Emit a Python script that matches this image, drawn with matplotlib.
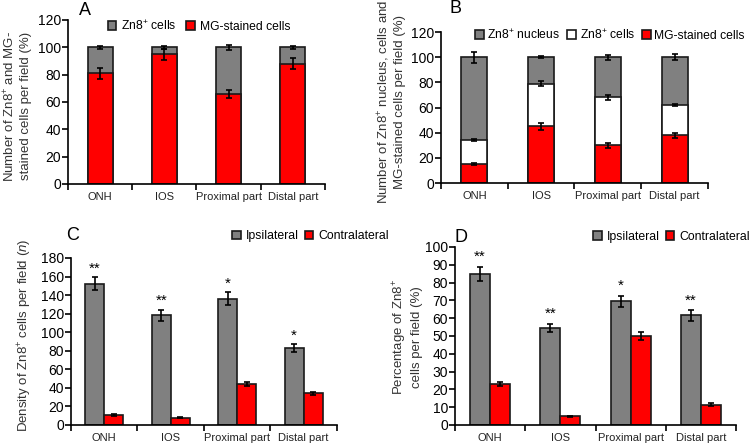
import numpy as np
import matplotlib
matplotlib.use("Agg")
import matplotlib.pyplot as plt

plt.rcParams['font.family'] = ['Liberation Sans', 'DejaVu Sans']
plt.rcParams['mathtext.fontset'] = 'custom'
plt.rcParams['mathtext.rm'] = 'Liberation Sans'
plt.rcParams['mathtext.it'] = 'Liberation Sans:italic'

regions = ['ONH', 'IOS', 'Proximal part', 'Distal part']

# panel A (stacked %)
a_mg = [81, 95, 66, 88]
a_mg_err = [4, 4, 3, 4]
a_total = [100, 100, 100, 100]
a_total_err = [1, 1, 2, 1]

# panel B (stacked %)
b_mg = [15, 45, 30, 38]
b_mg_err = [1, 2.5, 2, 2]
b_cells = [34, 79, 68, 62]
b_cells_err = [1, 2, 2, 1]
b_total = [100, 100, 100, 100]
b_total_err = [4.5, 1, 2, 2.5]

# panel C (density)
c_ipsi = [152, 118, 136, 83]
c_ipsi_err = [7, 6, 7, 4]
c_contra = [11, 8, 44, 34]
c_contra_err = [1, 0.8, 2, 1.5]
c_stars = ['**', '**', '*', '*']

# panel D (percentage)
d_ipsi = [85, 54.5, 69.5, 61.5]
d_ipsi_err = [4, 2.5, 3, 3]
d_contra = [23, 5, 50, 11.5]
d_contra_err = [1.2, 0.3, 2.5, 0.6]
d_stars = ['**', '**', '*', '**']

GRAY = '#808080'
RED = '#ff0000'
EDGE = '#1a1a1a'
x = np.arange(len(regions))
ekw = dict(fmt='none', ecolor='black', elinewidth=1.2, capsize=2.5, capthick=1.2)


def style_axis(ax, ymax, step):
    ax.spines['top'].set_visible(False)
    ax.spines['right'].set_visible(False)
    for s in ('left', 'bottom'):
        ax.spines[s].set_linewidth(1.2)
    ax.set_xlim(-0.5, len(regions) - 0.5)
    ax.set_ylim(0, ymax)
    ax.set_yticks(np.arange(0, ymax + 1, step))
    ax.set_xticks(x)
    ax.set_xticklabels(regions, fontsize=8, color='#222222')
    ax.set_xticks(np.arange(-0.5, len(regions), 1.0), minor=True)
    ax.tick_params(axis='x', which='major', length=0, pad=6)
    ax.tick_params(axis='x', which='minor', length=4, width=1.2)
    ax.tick_params(axis='y', labelsize=10, length=4, width=1.2, pad=1)


fig = plt.figure(figsize=(7.52, 4.44), dpi=100)

# ---- A
axA = fig.add_axes([0.0904, 0.5856, 0.3416, 0.3694])
w = 0.39
axA.bar(x, a_total, w, color=GRAY, edgecolor=EDGE, linewidth=1.2, label='Zn8$^{+}$ cells')
axA.bar(x, a_mg, w, color=RED, edgecolor=EDGE, linewidth=1.2, label='MG-stained cells')
axA.errorbar(x, a_total, yerr=a_total_err, **ekw)
axA.errorbar(x, a_mg, yerr=a_mg_err, **ekw)
style_axis(axA, 120, 20)
axA.legend(loc='center', bbox_to_anchor=(0.51, 0.965), ncol=2, frameon=False,
           fontsize=8.7, handlelength=0.7, handleheight=0.7, handletextpad=0.4,
           columnspacing=0.8)
fig.text(0.0226, 0.761, 'Number of Zn8$^{+}$ and MG-\nstained cells per field (%)',
         rotation=90, ha='center', va='center', fontsize=9.5, color='#333333',
         linespacing=1.3)
fig.text(0.113, 0.977, 'A', fontsize=13, ha='center', va='center')

# ---- B
axB = fig.add_axes([0.5864, 0.5878, 0.3551, 0.3401])
axB.bar(x, b_total, w, color=GRAY, edgecolor=EDGE, linewidth=1.2, label='Zn8$^{+}$ nucleus')
axB.bar(x, b_cells, w, color='white', edgecolor=EDGE, linewidth=1.2, label='Zn8$^{+}$ cells')
axB.bar(x, b_mg, w, color=RED, edgecolor=EDGE, linewidth=1.2, label='MG-stained cells')
axB.errorbar(x, b_total, yerr=b_total_err, **ekw)
axB.errorbar(x, b_cells, yerr=b_cells_err, **ekw)
axB.errorbar(x, b_mg, yerr=b_mg_err, **ekw)
style_axis(axB, 120, 20)
axB.legend(loc='center', bbox_to_anchor=(0.633, 0.98), ncol=3, frameon=False,
           fontsize=8.7, handlelength=0.7, handleheight=0.7, handletextpad=0.3,
           columnspacing=0.6)
fig.text(0.52, 0.77, 'Number of Zn8$^{+}$ nucleus, cells and\nMG-stained cells per field (%)',
         rotation=90, ha='center', va='center', fontsize=9.5, color='#333333',
         linespacing=1.3)
fig.text(0.606, 0.98, 'B', fontsize=13, ha='center', va='center')

# ---- C
bw = 0.285
axC = fig.add_axes([0.0944, 0.0428, 0.3536, 0.3762])
axC.bar(x - bw / 2, c_ipsi, bw, color=GRAY, edgecolor=EDGE, linewidth=1.2, label='Ipsilateral')
axC.bar(x + bw / 2, c_contra, bw, color=RED, edgecolor=EDGE, linewidth=1.2, label='Contralateral')
axC.errorbar(x - bw / 2, c_ipsi, yerr=c_ipsi_err, **ekw)
axC.errorbar(x + bw / 2, c_contra, yerr=c_contra_err, **ekw)
for xi, v, e, s in zip(x, c_ipsi, c_ipsi_err, c_stars):
    axC.text(xi - bw / 2, v + e + 2, s, ha='center', va='bottom', fontsize=11)
style_axis(axC, 180, 20)
axC.legend(loc='center', bbox_to_anchor=(0.90, 1.13), ncol=2, frameon=False,
           fontsize=8.8, handlelength=0.7, handleheight=0.7, handletextpad=0.4,
           columnspacing=0.5)
fig.text(0.033, 0.245, 'Density of Zn8$^{+}$ cells per field ($\\it{n}$)',
         rotation=90, ha='center', va='center', fontsize=9.5, color='#333333')
fig.text(0.097, 0.47, 'C', fontsize=13, ha='center', va='center')

# ---- D
axD = fig.add_axes([0.605, 0.0428, 0.374, 0.401])
axD.bar(x - bw / 2, d_ipsi, bw, color=GRAY, edgecolor=EDGE, linewidth=1.2, label='Ipsilateral')
axD.bar(x + bw / 2, d_contra, bw, color=RED, edgecolor=EDGE, linewidth=1.2, label='Contralateral')
axD.errorbar(x - bw / 2, d_ipsi, yerr=d_ipsi_err, **ekw)
axD.errorbar(x + bw / 2, d_contra, yerr=d_contra_err, **ekw)
for xi, v, e, s in zip(x, d_ipsi, d_ipsi_err, d_stars):
    axD.text(xi - bw / 2, v + e + 1.5, s, ha='center', va='bottom', fontsize=11)
style_axis(axD, 100, 10)
axD.legend(loc='center', bbox_to_anchor=(0.77, 1.056), ncol=2, frameon=False,
           fontsize=8.8, handlelength=0.7, handleheight=0.7, handletextpad=0.4,
           columnspacing=0.5)
fig.text(0.541, 0.241, 'Percentage of Zn8$^{+}$\ncells per field (%)',
         rotation=90, ha='center', va='center', fontsize=9.5, color='#333333',
         linespacing=1.3)
fig.text(0.613, 0.466, 'D', fontsize=13, ha='center', va='center')

fig.savefig('out.png', dpi=100)
